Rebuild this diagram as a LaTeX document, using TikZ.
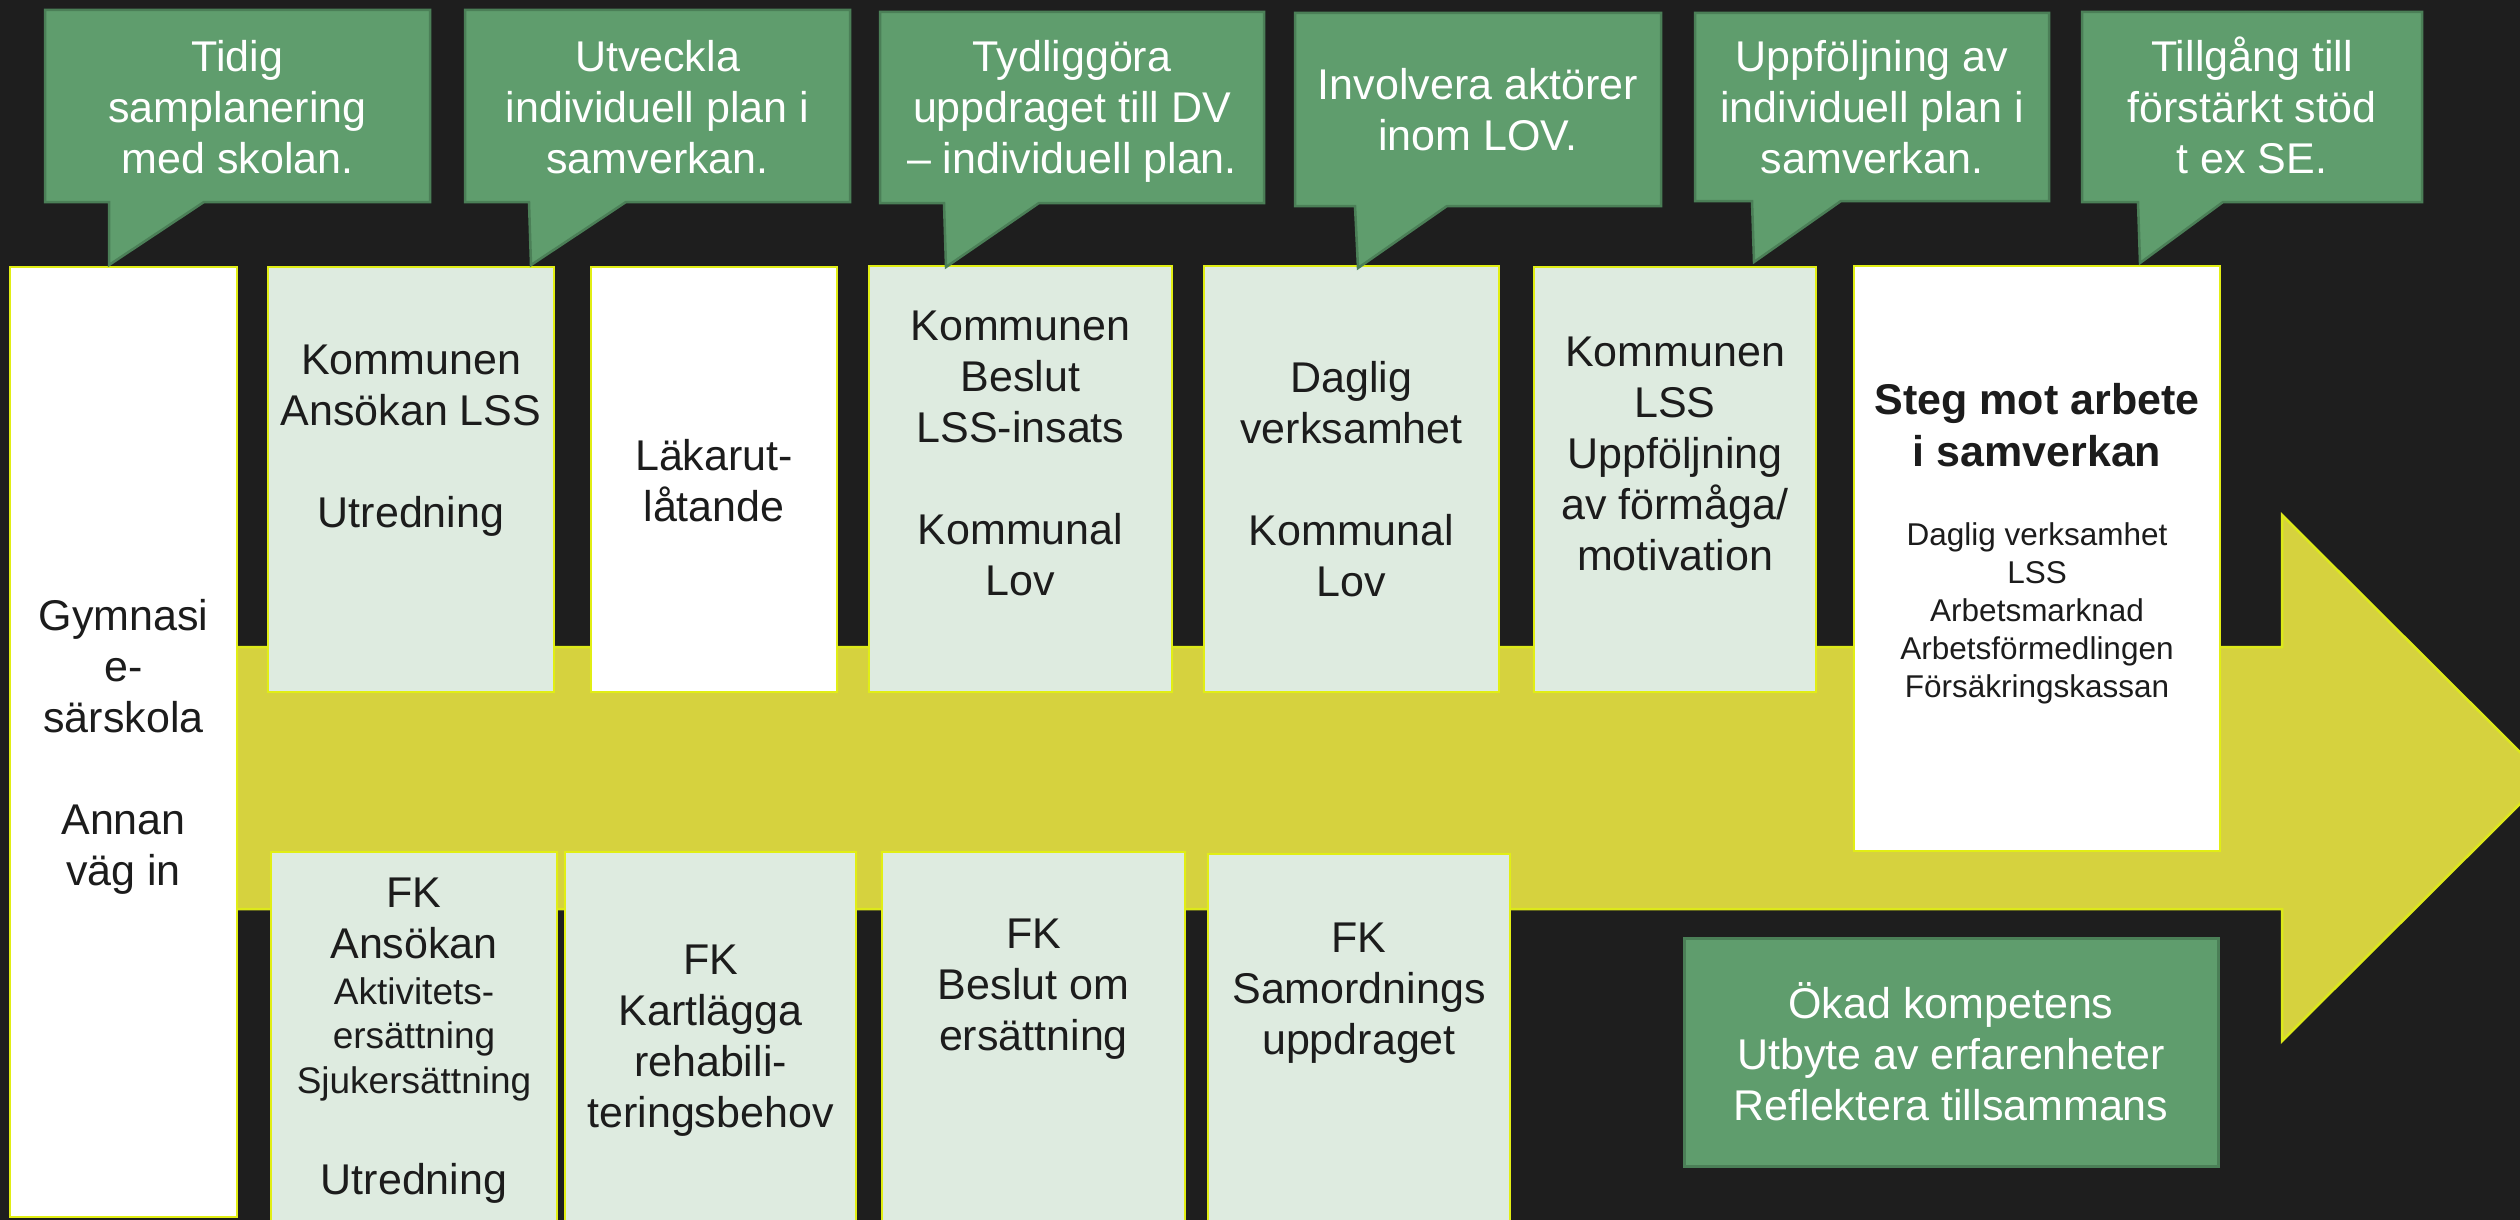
\documentclass[tikz,border=0pt]{standalone}
\usepackage{fontspec}
\setmainfont{Liberation Sans}
\definecolor{bgc}{HTML}{1E1E1E}
\definecolor{bubf}{HTML}{5F9D6D}
\definecolor{bubd}{HTML}{4B7F57}
\definecolor{boxf}{HTML}{DEEBE0}
\definecolor{boxd}{HTML}{E1EE14}
\definecolor{arrf}{HTML}{D6D23E}
\definecolor{arrd}{HTML}{DDE91A}
\definecolor{txtc}{HTML}{1C1C1C}
\newcommand\myst{\rule{0pt}{42pt}}
\newcommand\bubblepath[8]{\draw[bub] (#1,#2) -- (#3,#2) -- (#3,#4) -- (#6,#4) -- (#7,#8) -- (#5,#4) -- (#1,#4) -- cycle;}
\begin{document}
\begin{tikzpicture}[x=1pt,y=-1pt,
  bub/.style={fill=bubf, draw=bubd, line width=2.5pt, line join=miter},
  lbox/.style={fill=boxf, draw=boxd, line width=2.5pt},
  wbox/.style={fill=white, draw=boxd, line width=2.5pt},
  gbox/.style={fill=bubf, draw=bubd, line width=3pt},
  arrsty/.style={fill=arrf, draw=arrd, line width=2.5pt, line join=miter},
  txt/.style={inner sep=0pt, anchor=north, align=center, text=txtc, font=\fontsize{43}{51}\selectfont},
  wtxt/.style={txt, text=white},
  boldtxt/.style={txt, font=\fontsize{43}{52}\selectfont\bfseries},
  smalltxt/.style={txt, font=\fontsize{31.5}{38}\selectfont},
  midtxt/.style={txt, font=\fontsize{37}{44.5}\selectfont}]
\useasboundingbox (0,0) rectangle (2520,1220);
\fill[bgc] (0,0) rectangle (2520,1220);
\begin{scope}
\clip (0,0) rectangle (2520,1220);
% big arrow
\draw[arrsty] (150,647) -- (2282,647) -- (2282,515) -- (2546,778) -- (2282,1041) -- (2282,909) -- (150,909) -- cycle;
% top row boxes
\draw[wbox] (10,267) rectangle (237,1217);
\draw[lbox] (268,267) rectangle (554,692);
\draw[wbox] (591,267) rectangle (837,692);
\draw[lbox] (869,266) rectangle (1172,692);
\draw[lbox] (1204,266) rectangle (1499,692);
\draw[lbox] (1534,267) rectangle (1816,692);
\draw[wbox] (1854,266) rectangle (2220,851);
% bottom row boxes
\draw[lbox] (271,852) rectangle (557,1232);
\draw[lbox] (565,852) rectangle (856,1232);
\draw[lbox] (882,852) rectangle (1185,1232);
\draw[lbox] (1208,854) rectangle (1510,1232);
\draw[gbox] (1684,938) rectangle (2218,1166);
% speech bubbles
\bubblepath{45}{10}{430}{202}{109}{204}{109}{265}
\bubblepath{465}{10}{850}{202}{529}{626}{531}{265}
\bubblepath{880}{12}{1264}{203}{944}{1039}{946}{267}
\bubblepath{1295}{13}{1661}{206}{1355}{1447}{1358}{268}
\bubblepath{1695}{13}{2049}{201}{1752}{1841}{1754}{262}
\bubblepath{2082}{12}{2422}{202}{2138}{2223}{2140}{263}
\end{scope}
% bubble texts
\node[wtxt] (b1) at (237.5,29) {\myst Tidig\\samplanering\\med skolan.};
\node[wtxt] (b2) at (657.5,29) {\myst Utveckla\\individuell plan i\\samverkan.};
\node[wtxt] (b3) at (1072,29) {\myst Tydliggöra\\uppdraget till DV\\– individuell plan.};
\node[wtxt] (b4) at (1478,57) {\myst Involvera aktörer\\inom LOV.};
\node[wtxt] (b5) at (1872,29) {\myst Uppföljning av\\individuell plan i\\samverkan.};
\node[wtxt] (b6) at (2252,29) {\myst Tillgång till\\förstärkt stöd\\t ex SE.};
% top row texts
\node[txt] (t1) at (123.5,588) {\myst Gymnasi\\e-\\särskola\\[51pt]Annan\\väg in};
\node[txt] (t2) at (411,332) {\myst Kommunen\\Ansökan LSS\\[51pt]Utredning};
\node[txt] (t3) at (714,428) {\myst Läkarut-\\låtande};
\node[txt] (t4) at (1020.5,298) {\myst Kommunen\\Beslut\\LSS-insats\\[51pt]Kommunal\\Lov};
\node[txt] (t5) at (1351.5,350) {\myst Daglig\\verksamhet\\[51pt]Kommunal\\Lov};
\node[txt] (t6) at (1675,324) {\myst Kommunen\\LSS\\Uppföljning\\av förmåga/\\motivation};
\node[boldtxt] (t7h) at (2037,372) {\myst Steg mot arbete\\i samverkan};
\node[smalltxt] (t7l) at (2037,503) {\myst Daglig verksamhet\\LSS\\Arbetsmarknad\\Arbetsförmedlingen\\Försäkringskassan};
% bottom row texts
\node[txt] (u1a) at (414,865) {\myst FK\\Ansökan};
\node[midtxt] (u1b) at (414,962) {\myst Aktivitets-\\ersättning\\Sjukersättning};
\node[txt] (u1c) at (414,1152) {\myst Utredning};
\node[txt] (u2) at (710.5,932) {\myst FK\\Kartlägga\\rehabili-\\teringsbehov};
\node[txt] (u3) at (1033.5,906) {\myst FK\\Beslut om\\ersättning};
\node[txt] (u4) at (1359,910) {\myst FK\\Samordnings\\uppdraget};
\node[wtxt] (g1) at (1951,976) {\myst Ökad kompetens\\Utbyte av erfarenheter\\Reflektera tillsammans};
\end{tikzpicture}
\end{document}
